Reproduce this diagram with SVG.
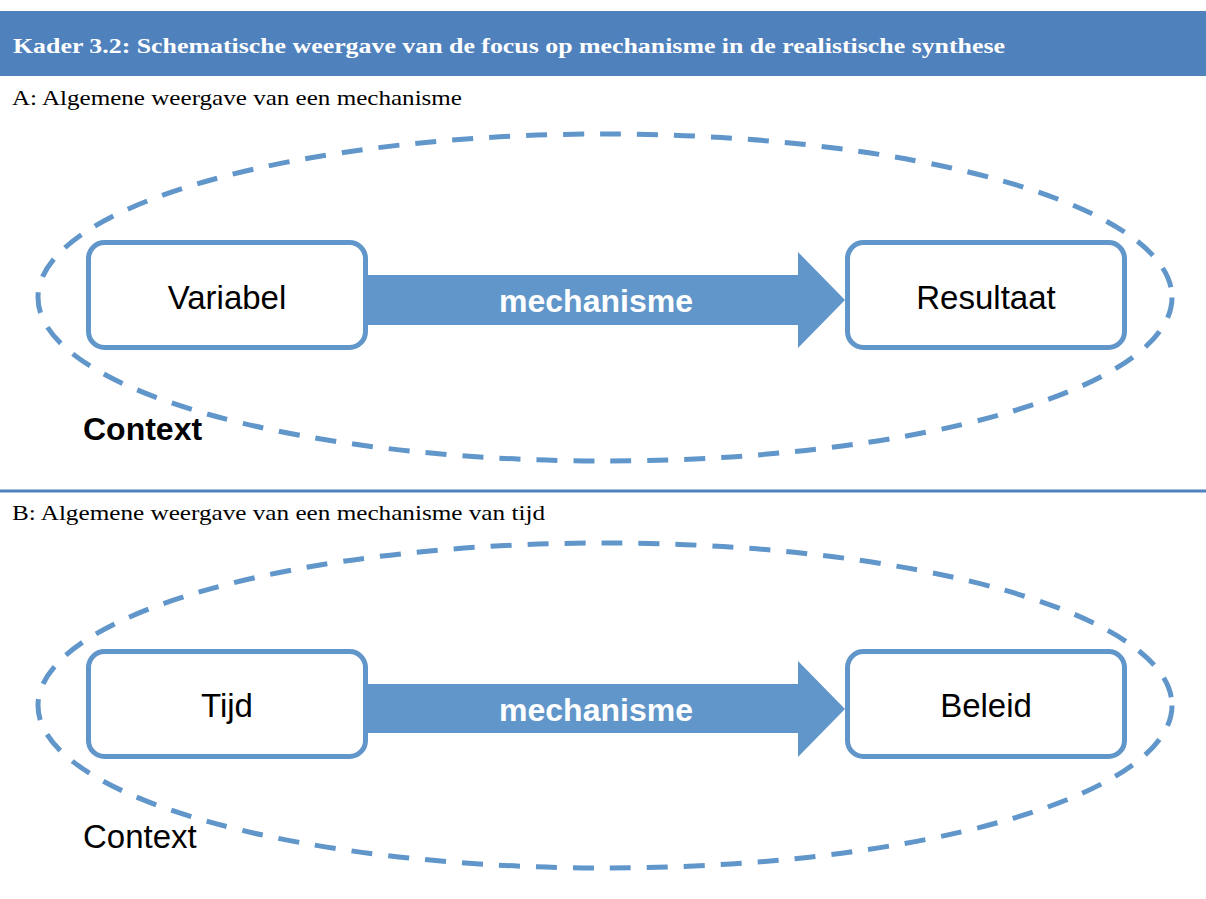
<svg xmlns="http://www.w3.org/2000/svg" width="1206" height="899" viewBox="0 0 1206 899">
<style>
.hdr{font-family:"Liberation Serif",serif;font-weight:bold;font-size:22px;fill:#ffffff}
.sub{font-family:"Liberation Serif",serif;font-size:22px;fill:#000000}
.ctx{fill:none;stroke:#6196CA;stroke-width:5;stroke-dasharray:21 16}
.box{fill:#ffffff;stroke:#6196CA;stroke-width:5}
.lbl{font-family:"Liberation Sans",Arial,sans-serif;font-size:33px;fill:#000000;text-anchor:middle}
.mech{font-family:"Liberation Sans",Arial,sans-serif;font-size:32px;font-weight:bold;fill:#ffffff;text-anchor:middle}
.arrow{fill:#6196CA}
.ctxlbl{font-family:"Liberation Sans",Arial,sans-serif;fill:#000000}
</style>
<rect x="0" y="0" width="1206" height="899" fill="#ffffff"/>
<rect x="0" y="11" width="1206" height="65" fill="#4F81BD"/>
<text class="hdr" x="13" y="53" textLength="992" lengthAdjust="spacingAndGlyphs">Kader 3.2: Schematische weergave van de focus op mechanisme in de realistische synthese</text>
<text class="sub" x="12" y="105" textLength="450" lengthAdjust="spacingAndGlyphs">A: Algemene weergave van een mechanisme</text>
<line x1="0" y1="491" x2="1206" y2="491" stroke="#4F81BD" stroke-width="3"/>
<text class="sub" x="12" y="520" textLength="533" lengthAdjust="spacingAndGlyphs">B: Algemene weergave van een mechanisme van tijd</text>

<g id="contextA">
<ellipse class="ctx" cx="605" cy="297.5" rx="567" ry="163.5"/>
<text class="ctxlbl" x="83" y="440" font-size="32" font-weight="bold">Context</text>
</g>
<g id="contextB">
<ellipse class="ctx" cx="605" cy="705.5" rx="567" ry="162.5"/>
<text class="ctxlbl" x="83" y="848" font-size="33">Context</text>
</g>

<g id="connectors">
<g id="arrowA">
<polygon class="arrow" points="360,275 798,275 798,252 845,300 798,348 798,325 360,325"/>
<text class="mech" x="596" y="312">mechanisme</text>
</g>
<g id="arrowB">
<polygon class="arrow" points="360,684 798,684 798,661 845,709 798,757 798,733 360,733"/>
<text class="mech" x="596" y="721">mechanisme</text>
</g>
</g>

<g id="variabel">
<rect class="box" x="88.5" y="242.5" width="277" height="105" rx="16"/>
<text class="lbl" x="227" y="309">Variabel</text>
</g>
<g id="resultaat">
<rect class="box" x="847.5" y="242.5" width="277" height="105" rx="16"/>
<text class="lbl" x="986" y="309">Resultaat</text>
</g>
<g id="tijd">
<rect class="box" x="88.5" y="651.5" width="277" height="105" rx="16"/>
<text class="lbl" x="227" y="717">Tijd</text>
</g>
<g id="beleid">
<rect class="box" x="847.5" y="651.5" width="277" height="105" rx="16"/>
<text class="lbl" x="986" y="717">Beleid</text>
</g>
</svg>
